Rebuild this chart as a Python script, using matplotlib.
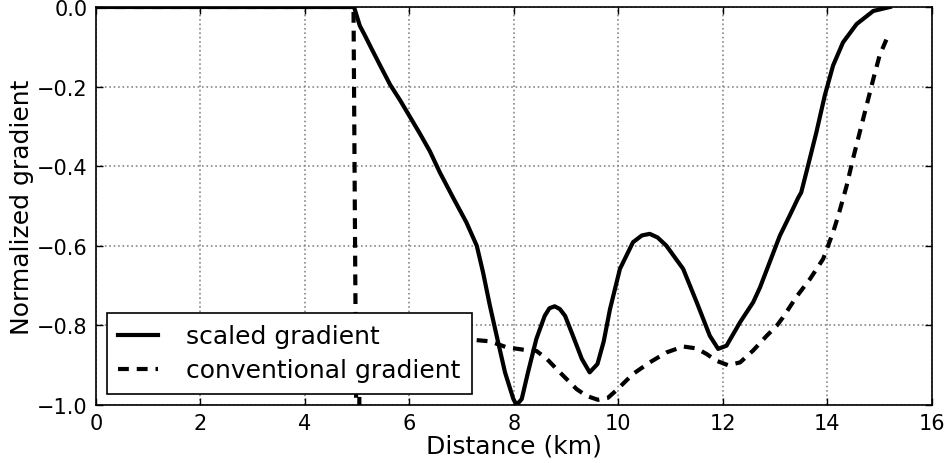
import numpy as np
import matplotlib
matplotlib.use("Agg")
import matplotlib.pyplot as plt

# scaled gradient (solid)
x_scaled = [0.0, 4.94, 5.05, 5.15, 5.28, 5.44, 5.63, 5.82, 6.01, 6.2, 6.39, 6.58,
            6.84, 7.09, 7.29, 7.41, 7.54, 7.67, 7.83, 7.99, 8.05, 8.15, 8.27, 8.43,
            8.59, 8.68, 8.78, 8.88, 8.98, 9.13, 9.3, 9.45, 9.6, 9.72, 9.84, 10.03,
            10.28, 10.45, 10.6, 10.75, 10.92, 11.24, 11.5, 11.75, 11.91, 12.07,
            12.33, 12.58, 12.71, 12.9, 13.09, 13.28, 13.44, 13.5, 13.63, 13.79,
            13.95, 14.11, 14.3, 14.56, 14.88, 15.2]
y_scaled = [0.0, 0.0, -0.047, -0.072, -0.106, -0.147, -0.195, -0.234, -0.276,
            -0.318, -0.362, -0.415, -0.48, -0.541, -0.6, -0.667, -0.75, -0.826,
            -0.918, -0.985, -1.0, -0.985, -0.918, -0.834, -0.776, -0.757, -0.752,
            -0.759, -0.776, -0.826, -0.884, -0.918, -0.897, -0.84, -0.759, -0.658,
            -0.591, -0.574, -0.57, -0.579, -0.6, -0.658, -0.742, -0.826, -0.859,
            -0.851, -0.792, -0.742, -0.705, -0.64, -0.575, -0.524, -0.48, -0.466,
            -0.399, -0.315, -0.223, -0.147, -0.089, -0.043, -0.01, 0.0]

# conventional gradient (dashed)
x_conv = [0.0, 4.93, 5.01, 5.05, 5.5, 6.5, 7.2, 7.54, 7.86, 8.18, 8.43, 8.63, 8.82,
          9.01, 9.2, 9.39, 9.61, 9.8, 9.97, 10.28, 10.6, 10.92, 11.24, 11.5, 11.69,
          11.88, 12.1, 12.33, 12.58, 12.84, 13.03, 13.15, 13.41, 13.67, 13.92,
          14.11, 14.21, 14.3, 14.37, 14.49, 14.62, 14.75, 14.88, 15.0, 15.13]
y_conv = [0.0, 0.0, -1.6, -0.83, -0.826, -0.83, -0.836, -0.84, -0.855, -0.861,
          -0.864, -0.884, -0.91, -0.935, -0.96, -0.977, -0.987, -0.982, -0.962,
          -0.922, -0.893, -0.868, -0.853, -0.858, -0.872, -0.889, -0.9, -0.893,
          -0.863, -0.826, -0.801, -0.78, -0.728, -0.683, -0.633, -0.566, -0.524,
          -0.482, -0.449, -0.382, -0.315, -0.248, -0.181, -0.122, -0.082]

xticks = [0, 2, 4, 6, 8, 10, 12, 14, 16]
yticks = [-1.0, -0.8, -0.6, -0.4, -0.2, 0.0]
ytick_labels = ['\u22121.0', '\u22120.8', '\u22120.6', '\u22120.4', '\u22120.2', '0.0']

plt.rcParams['font.family'] = 'DejaVu Sans'
fig = plt.figure(figsize=(9.52, 4.64), dpi=100)
ax = fig.add_axes([0.1008, 0.125, 0.878, 0.8578])

ax.plot(x_scaled, y_scaled, color='black', lw=3, label='scaled gradient')
ax.plot(x_conv, y_conv, color='black', lw=3, dashes=(2.6, 1.9),
        label='conventional gradient')

ax.set_xlim(0, 16)
ax.set_ylim(-1.0, 0.0)
ax.set_xticks(xticks)
ax.set_yticks(yticks)
ax.set_yticklabels(ytick_labels)
ax.grid(True, color='#888888', linestyle=':', linewidth=1.2)
ax.tick_params(direction='in', length=5, width=1, labelsize=15, top=True, right=True, pad=6)
for s in ax.spines.values():
    s.set_linewidth(1.2)

ax.set_xlabel('Distance (km)', fontsize=18, labelpad=0)
ax.set_ylabel('Normalized gradient', fontsize=18, labelpad=2)

leg = ax.legend(loc='lower left', fontsize=18, fancybox=False, framealpha=1,
                edgecolor='black', handlelength=1.6, handletextpad=1.1,
                borderpad=0.45, labelspacing=0.4, borderaxespad=0.45)
leg.get_frame().set_linewidth(1.2)

fig.savefig('out.png', dpi=100)
